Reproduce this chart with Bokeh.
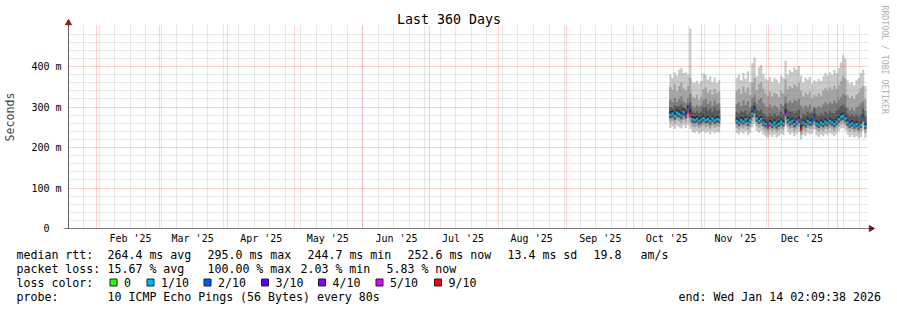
import math
from datetime import datetime, timedelta

from bokeh.plotting import figure
from bokeh.models import (Range1d, FixedTicker, Grid, Span, Title, Label, ColumnDataSource)
from bokeh.embed import file_html
from bokeh.resources import INLINE
from bokeh.core.properties import value

# ------------------------------------------------------------------ data
GRAPH_START = datetime(2025, 1, 19, 3, 42)
GRAPH_DAYS = 360.58
TITLE = "Last 360 Days"
WATERMARK = "RRDTOOL / TOBI OETIKER"

month_labels = ["Feb '25", "Mar '25", "Apr '25", "May '25", "Jun '25", "Jul '25",
                "Aug '25", "Sep '25", "Oct '25", "Nov '25", "Dec '25"]
y_ticks = [0, 100, 200, 300, 400]
y_labels = ["0\u00a0\u00a0", "100 m", "200 m", "300 m", "400 m"]
y_top = 501

# two runs of daily samples (ms), the gap between them is 100 % loss
seg_starts = [datetime(2025, 10, 17, 6), datetime(2025, 11, 16, 6)]
seg_lengths = [23, 59]

median = [281, 284, 278, 286, 283, 279, 288, 282, 295, 285, 270, 268, 271, 266, 269, 273,
          268, 270, 265, 272, 267, 270, 269,
          266, 262, 268, 264, 270, 261, 267, 284, 294, 272, 266, 270, 262, 258, 254, 260,
          256, 262, 255, 259, 264, 260, 287, 268, 262, 266, 258, 264, 269, 247, 262, 258,
          266, 262, 264, 275, 260, 256, 262, 258, 264, 260, 266, 262, 258, 264, 270, 276,
          278, 272, 262, 256, 260, 254, 258, 252, 256, 274, 253]
ping_1 = [248, 252, 246, 254, 250, 247, 255, 248, 256, 246, 238, 236, 240, 234, 238, 241,
          236, 239, 233, 240, 235, 238, 237,
          236, 232, 238, 234, 240, 230, 236, 250, 258, 240, 236, 240, 232, 228, 224, 230,
          226, 232, 225, 229, 234, 230, 254, 238, 232, 236, 228, 234, 238, 220, 232, 228,
          236, 232, 234, 244, 230, 226, 232, 228, 234, 230, 236, 232, 228, 234, 240, 246,
          248, 242, 232, 226, 230, 224, 228, 222, 226, 242, 224]
ping_2 = [262, 266, 260, 267, 264, 260, 268, 262, 272, 262, 252, 250, 252, 248, 251, 255,
          250, 252, 247, 254, 249, 252, 251,
          249, 245, 250, 247, 252, 244, 250, 265, 274, 254, 249, 252, 245, 241, 237, 243,
          239, 244, 238, 242, 246, 243, 268, 250, 245, 248, 241, 246, 251, 232, 245, 241,
          248, 245, 246, 256, 243, 239, 244, 241, 246, 243, 248, 245, 241, 246, 252, 257,
          259, 254, 245, 239, 243, 237, 241, 235, 239, 255, 236]
ping_3 = [272, 275, 269, 276, 274, 270, 278, 272, 284, 274, 261, 259, 262, 257, 260, 264,
          259, 261, 256, 263, 258, 261, 260,
          258, 254, 259, 256, 261, 253, 259, 275, 284, 263, 258, 261, 254, 250, 246, 252,
          248, 253, 247, 251, 255, 252, 277, 259, 254, 257, 250, 255, 260, 240, 254, 250,
          257, 254, 255, 265, 252, 248, 253, 250, 255, 252, 257, 254, 250, 255, 261, 266,
          268, 263, 254, 248, 252, 246, 250, 244, 248, 264, 245]
ping_6 = [290, 292, 287, 295, 292, 288, 296, 290, 303, 295, 278, 276, 279, 274, 277, 282,
          276, 279, 273, 280, 275, 278, 277,
          274, 270, 276, 273, 278, 269, 276, 292, 302, 280, 274, 278, 270, 266, 262, 268,
          264, 270, 263, 267, 272, 268, 295, 276, 270, 274, 266, 272, 277, 256, 270, 266,
          274, 270, 272, 283, 268, 264, 270, 266, 272, 268, 274, 270, 266, 272, 278, 284,
          287, 280, 270, 264, 268, 262, 266, 260, 264, 282, 261]
ping_7 = [300, 296, 304, 302, 302, 306, 298, 296, 306, 312, 288, 285, 290, 286, 289, 298,
          300, 292, 296, 288, 298, 290, 294,
          288, 284, 290, 287, 292, 282, 289, 304, 312, 294, 290, 294, 284, 280, 276, 284,
          278, 284, 278, 280, 288, 282, 308, 292, 288, 290, 284, 290, 294, 272, 284, 280,
          288, 284, 286, 296, 282, 278, 284, 280, 288, 284, 290, 286, 284, 290, 296, 302,
          306, 298, 284, 278, 282, 276, 282, 276, 282, 296, 276]
ping_8 = [318, 312, 322, 312, 320, 326, 314, 310, 322, 332, 302, 298, 305, 300, 304, 316,
          320, 308, 314, 303, 316, 306, 310,
          308, 312, 302, 316, 305, 314, 300, 322, 330, 308, 318, 322, 310, 302, 298, 306,
          296, 304, 300, 294, 308, 302, 326, 310, 316, 310, 318, 314, 320, 304, 296, 304,
          298, 306, 292, 300, 296, 302, 298, 306, 312, 306, 312, 308, 316, 310, 318, 324,
          332, 328, 298, 292, 296, 290, 298, 302, 310, 314, 290]
ping_9 = [350, 342, 356, 338, 352, 360, 346, 340, 352, 372, 326, 322, 330, 318, 326, 344,
          348, 336, 342, 330, 345, 334, 338,
          340, 345, 332, 350, 336, 348, 330, 360, 372, 342, 356, 362, 345, 334, 328, 338,
          326, 335, 332, 324, 340, 334, 368, 344, 352, 346, 356, 350, 360, 340, 326, 336,
          330, 338, 322, 330, 326, 334, 328, 340, 346, 340, 348, 342, 352, 345, 354, 364,
          376, 370, 330, 322, 328, 320, 330, 336, 346, 352, 320]
ping_10 = [380, 372, 386, 378, 392, 396, 384, 386, 380, 494, 362, 360, 365, 358, 364, 383,
           380, 368, 376, 362, 372, 360, 366,
           372, 380, 366, 384, 370, 388, 362, 408, 422, 376, 398, 404, 382, 370, 366, 374,
           362, 372, 368, 360, 378, 372, 415, 380, 392, 386, 398, 392, 402, 378, 360, 372,
           368, 374, 358, 366, 362, 370, 364, 376, 384, 378, 386, 380, 392, 384, 396, 410,
           428, 420, 366, 358, 362, 354, 366, 372, 384, 392, 352]
# lost pings out of 10 (averaged per day)
loss = [0.8, 0.9, 0.7, 0.9, 0.8, 0.9, 0.8, 3.5, 1.6, 7.0, 0.9, 0.8, 0.9, 0.7, 0.8, 0.9,
        0.8, 0.9, 0.7, 0.8, 0.9, 0.8, 0.9,
        0.9, 0.8, 0.9, 0.7, 0.8, 0.9, 0.8, 0.9, 1.6, 0.8, 0.9, 0.8, 0.9, 0.7, 4.6, 0.9,
        0.8, 0.9, 0.7, 0.8, 0.9, 0.8, 3.6, 0.9, 0.8, 0.9, 0.7, 0.8, 4.5, 6.5, 0.8, 0.9,
        0.8, 0.9, 1.4, 1.7, 0.8, 0.9, 0.7, 0.8, 0.9, 0.8, 0.9, 0.7, 0.8, 0.9, 0.8, 0.9,
        0.8, 0.9, 0.7, 0.8, 0.9, 0.8, 0.7, 0.9, 0.8, 1.5, 0.6]

loss_limits = [0, 1, 2, 3, 4, 5, 9]
loss_names = ["0", "1/10", "2/10", "3/10", "4/10", "5/10", "9/10"]
loss_colors = ["#26ff00", "#00b8ff", "#0059ff", "#5e00ff", "#7e00ff", "#dd00ff", "#ff0000"]

smoke_colors = ["#cacaca", "#a4a4a4", "#7e7e7e", "#585858", "#323232"]

stats_rtt = [("264.4", "avg"), ("295.0", "max"), ("244.7", "min"), ("252.6", "now")]
rtt_sd = "13.4"
am_s = "19.8"
stats_loss = [("15.67", "avg"), ("100.00", "max"), ("2.03", "min"), ("5.83", "now")]
probe_text = "10 ICMP Echo Pings (56 Bytes) every 80s"
end_text = "end: Wed Jan 14 02:09:38 2026"

# ------------------------------------------------------------------ helpers
EPOCH = datetime(1970, 1, 1)


def ms(d):
    return int(round((d - EPOCH).total_seconds() * 1000))


t0 = ms(GRAPH_START)
t1 = ms(GRAPH_START + timedelta(days=GRAPH_DAYS))
PX_MS = (t1 - t0) / 800.0          # one pixel of the 800 px wide time axis
PX_Y = 0.405                       # pixels per ms on the value axis
FRAME_TOP = 5                      # frame reaches up to the title line
FRAME_H = 228 - FRAME_TOP

MONO = "DejaVu Sans Mono"
FONT = value(MONO)
ARROW_C = "#8b1a1a"

# frame is larger than the graph so arrows and title fit inside it
p = figure(width=897, height=246,
           x_range=Range1d(t0 - 5 * PX_MS, t1 + 7 * PX_MS),
           y_range=Range1d(0, FRAME_H / PX_Y),
           output_backend="svg", toolbar_location=None,
           min_border_left=62, min_border_right=23, min_border_top=FRAME_TOP,
           min_border_bottom=18,
           outline_line_color=None, background_fill_color="white", border_fill_color="white")

# ---- smoke, one step polygon per run and band
idx = 0
for s, n in zip(seg_starts, seg_lengths):
    xs = [ms(s + timedelta(days=i)) for i in range(n + 1)]
    sl = slice(idx, idx + n)

    def ext(a):
        v = a[sl]
        return v + [v[-1]]

    bands = [(ext(ping_1), ext(ping_10)), (ext(ping_2), ext(ping_9)),
             (ext(ping_3), ext(ping_8)), (ext(ping_3), ext(ping_7)),
             (ext(median), ext(ping_6))]
    for (lo, hi), col in zip(bands, smoke_colors):
        p.varea_step(x=xs, y1=lo, y2=hi, step_mode="after", fill_color=col)
    idx += n


# ---- median, coloured by loss
def loss_colour(l):
    prev = -1
    for lim, col in zip(loss_limits, loss_colors):
        if prev < l <= lim:
            return col
        prev = lim
    return None


days = []
for s, n in zip(seg_starts, seg_lengths):
    days += [s + timedelta(days=i) for i in range(n)]
med_src = ColumnDataSource(dict(
    left=[ms(d) for d in days], right=[ms(d + timedelta(days=1)) for d in days],
    bottom=[m - 2.6 for m in median], top=[m + 2.6 for m in median],
    color=[loss_colour(l) for l in loss]))
p.quad(left="left", right="right", bottom="bottom", top="top", fill_color="color",
       line_color=None, source=med_src)

# ---- axes
label_ticks = [ms(datetime(2025, m, 16, 4)) for m in range(2, 13)]
p.xaxis.ticker = FixedTicker(ticks=label_ticks)
p.xaxis.major_label_overrides = {t: lab for t, lab in zip(label_ticks, month_labels)}
p.xaxis.major_tick_out = 0
p.xaxis.major_tick_in = 0
p.xaxis.axis_line_color = None
p.xaxis.major_label_standoff = 4
p.xaxis.major_label_text_font = MONO
p.xaxis.major_label_text_font_size = "10px"
p.xaxis.major_label_text_color = "black"

p.yaxis.ticker = FixedTicker(ticks=y_ticks)
p.yaxis.major_label_overrides = {t: lab for t, lab in zip(y_ticks, y_labels)}
p.yaxis.major_tick_out = 0
p.yaxis.major_tick_in = 0
p.yaxis.axis_line_color = None
p.yaxis.major_label_standoff = 2
p.yaxis.major_label_text_font = MONO
p.yaxis.major_label_text_font_size = "10px"
p.yaxis.major_label_text_color = "black"
p.yaxis.axis_label = "Seconds"
p.yaxis.axis_label_text_font = MONO
p.yaxis.axis_label_text_font_size = "11.6px"
p.yaxis.axis_label_text_font_style = "normal"
p.yaxis.axis_label_standoff = 11

# ---- grids (drawn over the data like rrdtool), limited to the graph area
weeks = []
d = datetime(2025, 1, 26)
while d < GRAPH_START + timedelta(days=GRAPH_DAYS):
    weeks.append(ms(d))
    d += timedelta(days=7)
month_starts = [ms(datetime(2025, m, 1)) for m in range(2, 13)] + [ms(datetime(2026, 1, 1))]

HAS_CROSS = "cross_bounds" in Grid.properties()

p.xgrid.ticker = FixedTicker(ticks=weeks)
p.ygrid.ticker = FixedTicker(ticks=[v for v in range(20, 500, 20) if v % 100])
grids = [p.xgrid[0], p.ygrid[0]]
for dim, ticks in ((0, month_starts), (1, [100, 200, 300, 400])):
    g = Grid(dimension=dim, ticker=FixedTicker(ticks=ticks))
    p.add_layout(g)
    grids.append(g)
for i, g in enumerate(grids):
    g.grid_line_color = "#8c8c8c" if i < 2 else "#ff0000"
    g.grid_line_alpha = 0.42 if i < 2 else 0.36
    g.grid_line_dash = "1 1"
    g.level = "annotation"
    if HAS_CROSS:
        g.cross_bounds = (0, y_top) if g.dimension == 0 else (t0, t1)

# ---- axis lines and arrow heads
p.add_layout(Span(location=0, dimension="width", line_color="black", line_width=1.2,
                  level="annotation"))
y_arrow = (228 - 22.5) / PX_Y
p.segment(x0=[t0], y0=[0], x1=[t0], y1=[y_arrow], line_color="#606060", line_width=1,
          level="annotation")
p.scatter(x=[t0], y=[y_arrow], marker="triangle", size=6,
          fill_color=ARROW_C, line_color=ARROW_C, level="annotation")
p.scatter(x=[t1 + 3.5 * PX_MS], y=[0], marker="triangle", size=6, angle=-math.pi / 2,
          fill_color=ARROW_C, line_color=ARROW_C, level="annotation")

# ---- title (inside the enlarged frame) and watermark
p.add_layout(Label(x=t0 + 381 * PX_MS, y=(228 - 19) / PX_Y, text=TITLE,
                   text_font=MONO, text_font_size="13.3px", text_font_style="normal",
                   text_align="center", text_baseline="middle", text_color="black"))
p.add_layout(Title(text=WATERMARK, align="left", offset=0, standoff=10,
                   text_font=MONO, text_font_size="8.2px", text_font_style="normal",
                   text_color="#b0b0b0"), "right")

# ------------------------------------------------------------------ legend block
lg = figure(width=897, height=64, x_range=Range1d(0, 897), y_range=Range1d(64, 0),
            output_backend="svg", toolbar_location=None, min_border=0,
            x_axis_type=None, y_axis_type=None, outline_line_color=None,
            background_fill_color="white", border_fill_color="white")

rows = [8, 22, 36, 50.5]
tx, ty, tt = [], [], []


def put(x, y, s):
    tx.append(x); ty.append(y); tt.append(s)


put(16, rows[0], "median rtt:")
for (v, k), x in zip(stats_rtt, [107, 207, 307, 407]):
    put(x, rows[0], f"{v} ms {k}")
put(507, rows[0], f"{rtt_sd} ms sd")
put(593, rows[0], am_s)
put(640, rows[0], "am/s")

put(16, rows[1], "packet loss:")
for (v, k), x in zip(stats_loss, [107, 207, 300, 386]):
    put(x, rows[1], f"{v} % {k}")

put(16, rows[2], "loss color:")
sq_left = [109.5, 146.5, 203.5, 261, 318, 375.5, 434]
for xl, name in zip(sq_left, loss_names):
    put(xl + 14, rows[2], name)
lg.rect(x=[xl + 3.5 for xl in sq_left], y=[rows[2]] * len(sq_left), width=7, height=7,
        fill_color=loss_colors, line_color="#202020", line_width=1)

put(16, rows[3], "probe:")
put(107, rows[3], probe_text)
put(678, rows[3], end_text)

lg.text(x=tx, y=ty, text=tt, text_font=FONT, text_font_size="11.6px",
        text_baseline="middle", text_align="left", text_color="black")

open("out.html", "w").write(file_html([p, lg], INLINE))
